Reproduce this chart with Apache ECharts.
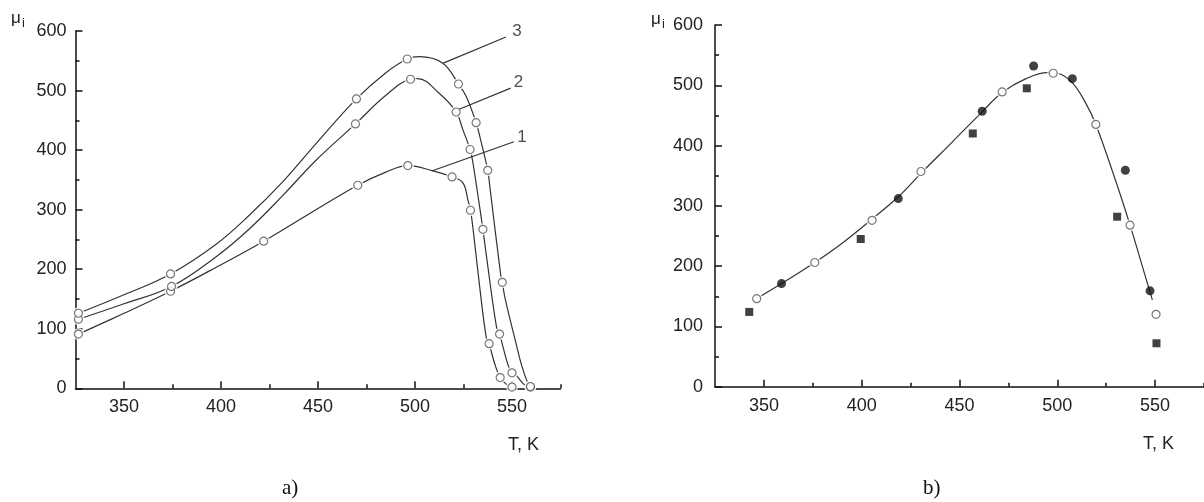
<!DOCTYPE html>
<html><head><meta charset="utf-8">
<script src="https://cdn.jsdelivr.net/npm/echarts@6/dist/echarts.min.js"></script>
<style>html,body{margin:0;padding:0;background:#fff}#c{width:1204px;height:502px}</style>
</head><body><div id="c"></div>
<script>
// ---- tick values ----
const xMajorTicks = [350, 400, 450, 500, 550];
const xMinorTicks = [375, 425, 475, 525, 575];
const yMinorTicks = [50, 150, 250, 350, 450, 550];

// ---- panel a) : fitted curves (read from picture) ----
const curve1Line = [[326.5,91],[350,126],[374,163],[398,204],[422,247],[446,294],[470.5,341],[485,363],[496.3,374],[509.3,365],[519.1,355],[524.7,345],[527.3,316],[528.6,299],[529.8,271],[533,180],[536.7,86],[538.2,75],[541,42],[543.9,18],[547,7],[550,2]];
const curve2Line = [[326.5,116],[350,142],[374.5,171],[397.5,221],[414.7,268],[431.9,324],[449,383],[469.3,444],[485,492],[497.7,519],[501.4,520],[512.6,495],[521.2,464],[524.7,434],[528.4,401],[529.8,380],[535,267],[536.5,230],[542,103],[543.6,91],[545.4,69],[548,39],[550,26],[552.6,20],[556.4,6],[559.5,2]];
const curve3Line = [[326.5,126],[350,157],[374,192],[397.5,242],[414.7,291],[431.9,347],[449,411],[469.8,486],[485,530],[496,553],[502.3,557],[514.3,546],[522.4,511],[526.4,490],[531.5,446],[534,415],[537.5,366],[538.6,338],[544.2,190],[545,178],[546.5,150],[552.1,75],[555,38],[558.2,8],[559.5,3]];
// ---- panel a) : measured points (open circles) ----
const curve1Pts = [[326.5,91],[374,163],[422,247],[470.5,341],[496.3,374],[519.1,355],[528.6,299],[538.2,75],[543.9,18],[550,2]];
const curve2Pts = [[326.5,116],[374.5,171],[469.3,444],[497.7,519],[521.2,464],[528.4,401],[535,267],[543.6,91],[550,26],[559.5,2]];
const curve3Pts = [[326.5,126],[374,192],[469.8,486],[496,553],[522.4,511],[531.5,446],[537.5,366],[545,178],[559.5,3]];
// ---- panel a) : curve number leaders and labels ----
const leader1 = [[508.6,365],[551,414]];
const leader2 = [[522.8,468.5],[549.3,504]];
const leader3 = [[514.6,546],[546.9,590]];
const curveLabels = [[555.2,421,'1'],[553.4,513.5,'2'],[552.6,599,'3']];

// ---- panel b) ----
const fitLine = [[346.3,146],[359,171],[376,206],[390,238],[405.3,278],[418.7,315],[430.3,354],[446,405],[461.6,456],[471.8,488],[484,511],[495,521],[500,520],[507.7,504],[514.6,470],[519.7,435],[530,340],[537.2,268],[543,205],[548.6,144]];
const openPts = [[346.3,146],[376,206],[405.3,276],[430.3,357],[471.8,489],[497.9,520],[519.7,435],[537.2,268],[550.5,120]];
const filledPts = [[359,171],[418.7,312],[461.6,457],[487.9,532],[507.7,511],[534.8,359],[547.4,159]];
const squarePts = [[342.5,124],[399.5,245],[456.8,420],[484.4,495],[530.6,282],[550.7,72]];

const FONT = 'Liberation Sans, Arial, sans-serif';
const AX = '#111';

function xMain(grid){
  return {gridIndex:grid, type:'value', min:325, max:575,
    axisLine:{show:true, onZero:false, lineStyle:{color:AX, width:1.5}},
    axisTick:{show:true, inside:true, length:7, customValues:xMajorTicks, lineStyle:{color:AX, width:1.5}},
    axisLabel:{show:true, customValues:xMajorTicks, fontSize:18, color:'#222', margin:10, fontFamily:FONT},
    splitLine:{show:false}};
}
function xMinor(grid){
  return {gridIndex:grid, type:'value', min:325, max:575, position:'bottom',
    axisLine:{show:false, onZero:false},
    axisTick:{show:true, inside:true, length:4, customValues:xMinorTicks, lineStyle:{color:AX, width:1.5}},
    axisLabel:{show:false}, splitLine:{show:false}};
}
function yAx(grid, margin){
  return {gridIndex:grid, type:'value', min:0, max:600, interval:100,
    axisLine:{show:true, onZero:false, lineStyle:{color:AX, width:1.5}},
    axisTick:{show:true, inside:true, length:7, lineStyle:{color:AX, width:1.5}},
    axisLabel:{fontSize:18, color:'#222', margin:margin, fontFamily:FONT},
    splitLine:{show:false}};
}
function yMinor(grid){
  return {gridIndex:grid, type:'value', min:0, max:600, position:'left',
    axisLine:{show:false, onZero:false},
    axisTick:{show:true, inside:true, length:4, customValues:yMinorTicks, lineStyle:{color:AX, width:1.5}},
    axisLabel:{show:false}, splitLine:{show:false}};
}
function lineS(data, xi, yi){
  return {type:'line', xAxisIndex:xi, yAxisIndex:yi, data:data, smooth:0.4,
    showSymbol:false, symbol:'none', lineStyle:{color:'#333', width:1.2}, z:2, silent:true};
}
function halo(data, xi, yi){
  return {type:'scatter', xAxisIndex:xi, yAxisIndex:yi, data:data, symbol:'circle', symbolSize:12,
    itemStyle:{color:'#fff'}, z:3, silent:true};
}
function openS(data, xi, yi){
  return {type:'scatter', xAxisIndex:xi, yAxisIndex:yi, data:data, symbol:'circle', symbolSize:8,
    itemStyle:{color:'#fff', borderColor:'#555', borderWidth:1.2}, z:4, silent:true};
}
function leaderS(data){
  return {type:'line', xAxisIndex:0, yAxisIndex:0, data:data, showSymbol:false, symbol:'none',
    lineStyle:{color:'#333', width:1.2}, z:5, silent:true};
}

const option = {
  animation:false,
  backgroundColor:'#fff',
  textStyle:{fontFamily:FONT},
  grid:[
    {left:75.5, top:31, width:485, height:357.3, containLabel:false},
    {left:715, top:25, width:491, height:361.7, containLabel:false}
  ],
  xAxis:[xMain(0), xMinor(0), xMain(1), xMinor(1)],
  yAxis:[yAx(0, 9), yMinor(0), yAx(1, 12), yMinor(1)],
  series:[
    lineS(curve1Line,0,0), lineS(curve2Line,0,0), lineS(curve3Line,0,0),
    leaderS(leader1), leaderS(leader2), leaderS(leader3),
    halo(curve1Pts,0,0), halo(curve2Pts,0,0), halo(curve3Pts,0,0),
    openS(curve1Pts,0,0), openS(curve2Pts,0,0), openS(curve3Pts,0,0),
    {type:'scatter', xAxisIndex:0, yAxisIndex:0, data:curveLabels, symbolSize:0, silent:true, z:6,
      label:{show:true, position:'inside', formatter:p=>p.data[2], fontSize:17, color:'#222', fontFamily:FONT}},
    lineS(fitLine,2,2),
    halo(openPts,2,2),
    openS(openPts,2,2),
    {type:'scatter', xAxisIndex:2, yAxisIndex:2, data:filledPts, symbol:'circle', symbolSize:9,
      itemStyle:{color:'#111'}, z:4, silent:true},
    {type:'scatter', xAxisIndex:2, yAxisIndex:2, data:squarePts, symbol:'rect', symbolSize:8,
      itemStyle:{color:'#111'}, z:4, silent:true}
  ],
  graphic:[
    {type:'text', left:11, top:10, style:{text:'μ', font:'17px '+FONT, fill:'#222'}},
    {type:'text', left:22, top:17, style:{text:'i', font:'13px '+FONT, fill:'#222'}},
    {type:'text', left:651, top:11, style:{text:'μ', font:'17px '+FONT, fill:'#222'}},
    {type:'text', left:662, top:18, style:{text:'i', font:'13px '+FONT, fill:'#222'}},
    {type:'text', left:508, top:436, style:{text:'T, K', font:'18px '+FONT, fill:'#222'}},
    {type:'text', left:1143, top:435, style:{text:'T, K', font:'18px '+FONT, fill:'#222'}},
    {type:'text', left:282, top:478, style:{text:'a)', font:'21px Liberation Serif, Times New Roman, serif', fill:'#111'}},
    {type:'text', left:923, top:478, style:{text:'b)', font:'21px Liberation Serif, Times New Roman, serif', fill:'#111'}}
  ]
};
const chart = echarts.init(document.getElementById('c'), null, {renderer:'canvas'});
chart.setOption(option);
</script></body></html>
